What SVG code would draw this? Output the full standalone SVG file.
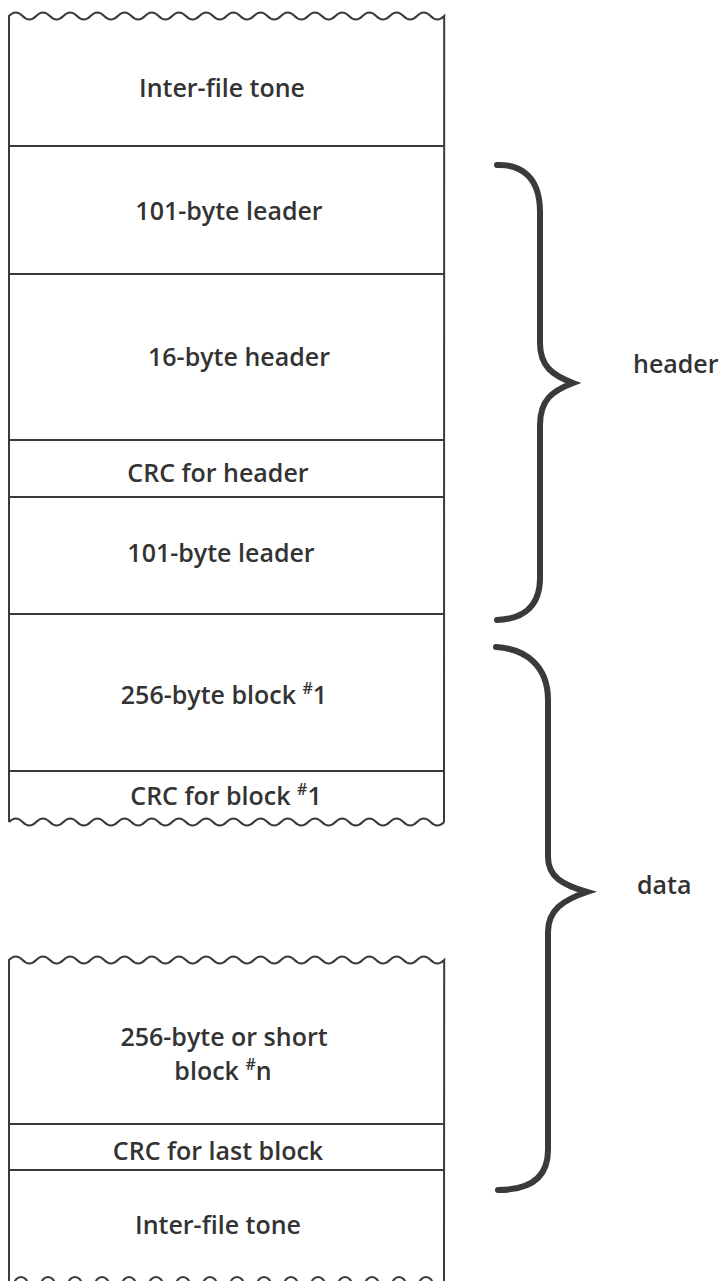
<svg xmlns="http://www.w3.org/2000/svg" width="724" height="1281" viewBox="0 0 724 1281">
<style>
.frame{fill:none;stroke:#3a3a3a;stroke-width:2}
.div{stroke:#3a3a3a;stroke-width:2}
.lbl{font-family:"Open Sans","Liberation Sans",sans-serif;font-size:25px;font-weight:600;fill:#333;text-anchor:middle}
.side{font-family:"Open Sans","Liberation Sans",sans-serif;font-size:25px;font-weight:600;fill:#333}
.sup{font-size:16px}
.brace{fill:none;stroke:#3a3a3a;stroke-width:6;stroke-linecap:round;stroke-linejoin:miter}
</style>
<rect width="724" height="1281" fill="#fff"/>
<g id="frame-top">
<path class="frame" d="M9,822 L9,16 q6.8,-7 13.6,0 t13.6,0 t13.6,0 t13.6,0 t13.6,0 t13.6,0 t13.6,0 t13.6,0 t13.6,0 t13.6,0 t13.6,0 t13.6,0 t13.6,0 t13.6,0 t13.6,0 t13.6,0 t13.6,0 t13.6,0 t13.6,0 t13.6,0 t13.6,0 t13.6,0 t13.6,0 t13.6,0 t13.6,0 t13.6,0 t13.6,0 t13.6,0 t13.6,0 t13.6,0 t13.6,0 t13.6,0 L444,822"/>
<path class="frame" d="M9,822 q6.8,-7 13.6,0 t13.6,0 t13.6,0 t13.6,0 t13.6,0 t13.6,0 t13.6,0 t13.6,0 t13.6,0 t13.6,0 t13.6,0 t13.6,0 t13.6,0 t13.6,0 t13.6,0 t13.6,0 t13.6,0 t13.6,0 t13.6,0 t13.6,0 t13.6,0 t13.6,0 t13.6,0 t13.6,0 t13.6,0 t13.6,0 t13.6,0 t13.6,0 t13.6,0 t13.6,0 t13.6,0 t13.6,0"/>
</g>
<g id="frame-bottom">
<path class="frame" d="M9,1281 L9,960 q6.8,-7 13.6,0 t13.6,0 t13.6,0 t13.6,0 t13.6,0 t13.6,0 t13.6,0 t13.6,0 t13.6,0 t13.6,0 t13.6,0 t13.6,0 t13.6,0 t13.6,0 t13.6,0 t13.6,0 t13.6,0 t13.6,0 t13.6,0 t13.6,0 t13.6,0 t13.6,0 t13.6,0 t13.6,0 t13.6,0 t13.6,0 t13.6,0 t13.6,0 t13.6,0 t13.6,0 t13.6,0 t13.6,0 L444,1281"/>
<path class="frame" d="M14,1286 c0,-12 14,-12 14,0 m13,0 c0,-12 14,-12 14,0 m13,0 c0,-12 14,-12 14,0 m13,0 c0,-12 14,-12 14,0 m13,0 c0,-12 14,-12 14,0 m13,0 c0,-12 14,-12 14,0 m13,0 c0,-12 14,-12 14,0 m13,0 c0,-12 14,-12 14,0 m13,0 c0,-12 14,-12 14,0 m13,0 c0,-12 14,-12 14,0 m13,0 c0,-12 14,-12 14,0 m13,0 c0,-12 14,-12 14,0 m13,0 c0,-12 14,-12 14,0 m13,0 c0,-12 14,-12 14,0 m13,0 c0,-12 14,-12 14,0 m13,0 c0,-12 14,-12 14,0"/>
</g>
<g id="n-tone1"><text class="lbl" x="222" y="97">Inter-file tone</text></g>
<g id="n-leader1"><line class="div" x1="9" y1="146" x2="444" y2="146"/><text class="lbl" x="229" y="220">101-byte leader</text></g>
<g id="n-header16"><line class="div" x1="9" y1="274" x2="444" y2="274"/><text class="lbl" x="239" y="366">16-byte header</text></g>
<g id="n-crc-header"><line class="div" x1="9" y1="440" x2="444" y2="440"/><text class="lbl" x="218" y="482">CRC for header</text></g>
<g id="n-leader2"><line class="div" x1="9" y1="497" x2="444" y2="497"/><text class="lbl" x="221" y="562">101-byte leader</text></g>
<g id="n-block1"><line class="div" x1="9" y1="614" x2="444" y2="614"/><text class="lbl" x="224" y="704">256-byte block <tspan class="sup" dy="-10">#</tspan><tspan dy="10">1</tspan></text></g>
<g id="n-crc-block1"><line class="div" x1="9" y1="771" x2="444" y2="771"/><text class="lbl" x="226" y="805">CRC for block <tspan class="sup" dy="-10">#</tspan><tspan dy="10">1</tspan></text></g>
<g id="n-blockn"><text class="lbl" x="224" y="1046">256-byte or short</text><text class="lbl" x="223" y="1080">block <tspan class="sup" dy="-10">#</tspan><tspan dy="10">n</tspan></text></g>
<g id="n-crc-last"><line class="div" x1="9" y1="1124" x2="444" y2="1124"/><text class="lbl" x="218" y="1160">CRC for last block</text></g>
<g id="n-tone2"><line class="div" x1="9" y1="1170" x2="444" y2="1170"/><text class="lbl" x="218" y="1234">Inter-file tone</text></g>
<g id="connectors">
<path class="brace" d="M497,165 C522,164 540,178 540,212 L540,343 C540,366 552,375 573,383 C552,391 540,400 540,425 L540,578 C540,604 526,619 497,620"/>
<path class="brace" d="M496,647 C526,649 548,666 548,700 L548,857 C548,877 563,885 587,892 C563,900 548,910 548,932 L548,1150 C548,1176 532,1190 498,1190"/>
</g>
<g id="n-header-label"><text class="side" x="633" y="373">header</text></g>
<g id="n-data-label"><text class="side" x="637" y="894">data</text></g>
</svg>
